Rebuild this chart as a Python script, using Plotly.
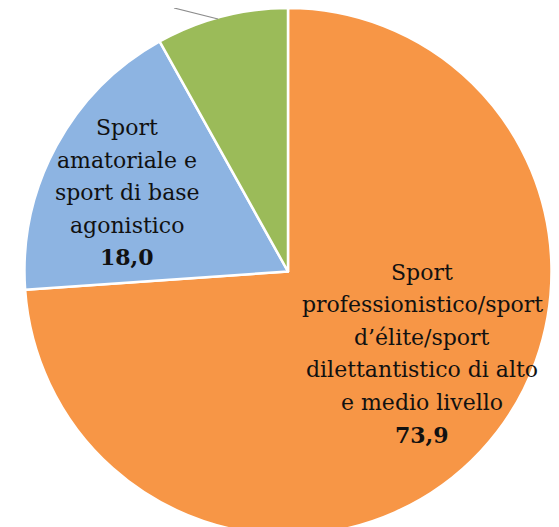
import plotly.graph_objects as go

W, H = 559, 527

# ---- data ----
categories = [
    "Sport professionistico/sport d’élite/sport dilettantistico di alto e medio livello",
    "Sport amatoriale e sport di base agonistico",
    "Altro",
]
values = [73.9, 18.0, 8.1]
label_lines = [
    ["Sport", "professionistico/sport", "d’élite/sport", "dilettantistico di alto", "e medio livello"],
    ["Sport", "amatoriale e", "sport di base", "agonistico"],
    [],
]
colors = ["#F79646", "#8DB4E2", "#9BBB59"]

# ---- layout constants (figure pixels) ----
cx, r = 280, 263.5
label_anchor = [(414, 264), (119, 119.5), None]  # centre x, first line centre y
line_step = 32.5
font_family = "DejaVu Serif"
font_size = 22

fig = go.Figure(
    go.Pie(
        labels=categories,
        values=values,
        sort=False,
        direction="clockwise",
        rotation=0,
        marker=dict(colors=colors, line=dict(color="white", width=2.5)),
        textinfo="none",
        hoverinfo="label+value",
        domain=dict(x=[(cx - r) / W, (cx + r) / W], y=[0, 1]),
        showlegend=False,
    )
)

annotations = []
for lines, val, anchor in zip(label_lines, values, label_anchor):
    if anchor is None:
        continue
    ax, ay = anchor
    texts = lines + ["<b>" + f"{val:.1f}".replace(".", ",") + "</b>"]
    for i, t in enumerate(texts):
        annotations.append(
            dict(
                x=ax / W,
                y=1 - (ay + i * line_step) / H,
                xref="paper",
                yref="paper",
                text=t,
                showarrow=False,
                xanchor="center",
                yanchor="middle",
                font=dict(family=font_family, size=font_size, color="#111111"),
            )
        )

fig.update_layout(
    width=W,
    height=H,
    margin=dict(l=0, r=0, t=0, b=0),
    paper_bgcolor="white",
    plot_bgcolor="white",
    annotations=annotations,
    shapes=[
        dict(
            type="line",
            xref="paper",
            yref="paper",
            x0=166 / W,
            y0=1.0,
            x1=210 / W,
            y1=1 - 11 / H,
            line=dict(color="#8C8C8C", width=1.2),
        )
    ],
)

fig.write_html("out.html")
